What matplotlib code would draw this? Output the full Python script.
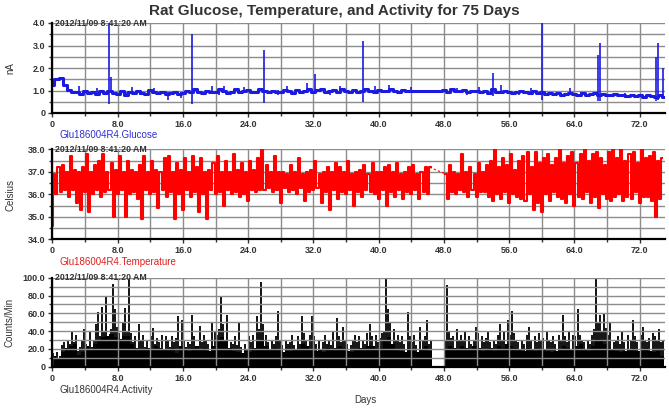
import numpy as np
import matplotlib
matplotlib.use('Agg')
import matplotlib.pyplot as plt
from matplotlib.ticker import MultipleLocator

plt.rcParams['font.family'] = ['Liberation Sans', 'DejaVu Sans']

# 글루코스 (nA), 0.5일 간격
glucose_nA = [
    1.25, 1.50, 1.55, 1.25, 1.02, 0.92, 0.95, 0.86, 1.00, 0.88,
    0.92, 0.85, 0.97, 0.88, 1.00, 0.90, 0.85, 0.98, 0.82, 0.95,
    0.88, 1.00, 0.90, 0.84, 1.02, 0.92, 0.88, 0.95, 0.84, 0.90,
    0.95, 0.85, 0.90, 0.98, 0.92, 1.05, 0.95, 0.88, 1.00, 0.92,
    0.95, 1.05, 1.00, 0.90, 0.95, 1.05, 0.92, 0.98, 1.02, 0.95,
    0.92, 1.05, 0.98, 0.92, 1.00, 0.95, 0.92, 1.02, 0.96, 0.90,
    1.02, 0.95, 0.98, 1.05, 0.95, 1.02, 1.05, 0.95, 0.98, 1.02,
    0.95, 1.05, 1.00, 0.92, 1.02, 0.95, 0.98, 1.05, 1.00, 0.95,
    1.02, 0.96, 0.98, 1.05, 1.00, 0.94, 1.03, 0.96, 1.00, 0.97,
    0.98, 1.00, 1.00, 1.00, 1.00, 1.00, 1.02, 0.95, 1.05, 0.96,
    0.98, 1.02, 0.95, 1.00, 0.97, 0.92, 1.00, 0.90, 1.05, 0.95,
    0.92, 0.96, 0.95, 0.88, 0.92, 0.98, 0.95, 0.88, 0.96, 0.90,
    0.95, 0.85, 0.90, 0.85, 0.88, 0.82, 0.86, 0.90, 0.85, 0.80,
    0.87, 0.82, 0.84, 0.88, 0.80, 0.86, 0.82, 0.78, 0.85, 0.80,
    0.80, 0.76, 0.82, 0.75, 0.78, 0.72, 0.80, 0.74, 0.72, 0.78,
    0.70,
]
glucose_days = np.arange(len(glucose_nA)) * 0.5

# 글루코스 스파이크 (일, 최저, 최고)
spike_days = [7.0, 7.15, 17.1, 26.0, 31.2, 32.2, 38.1, 54.0, 60.0, 66.9, 67.1, 74.0, 74.2, 74.8,
              3.2, 5.5, 9.8, 12.4, 19.6, 21.0, 23.5, 28.7, 35.2, 39.5, 41.3, 44.0, 49.6, 52.3,
              55.0, 58.7, 63.5, 9.1, 10.8, 14.2, 15.8, 20.4, 27.6, 34.0, 50.8, 57.2, 64.8, 70.2]
spike_low = [0.40, 0.90, 0.40, 0.45, 0.90, 0.85, 0.50, 0.75, 0.60, 0.55, 0.55, 0.55, 0.60, 0.65,
             0.88, 0.85, 0.90, 0.88, 0.92, 0.90, 0.92, 0.94, 0.95, 0.95, 0.96, 0.95, 0.92, 0.94,
             0.85, 0.90, 0.85, 0.72, 0.78, 0.60, 0.65, 0.78, 0.80, 0.82, 0.80, 0.78, 0.70, 0.65]
spike_high = [4.00, 1.60, 3.50, 2.80, 1.35, 1.75, 3.20, 1.80, 4.00, 2.60, 3.10, 2.50, 3.10, 2.00,
              1.18, 1.12, 1.15, 1.10, 1.18, 1.20, 1.15, 1.18, 1.20, 1.22, 1.25, 1.15, 1.12, 1.15,
              1.25, 1.12, 1.10, 0.95, 0.95, 0.95, 0.95, 1.00, 1.02, 1.02, 1.00, 0.98, 0.92, 0.88]

# 체온 (Celsius), 0.25일 간격, 46.5~48.0일 결측
temperature_c = [
    34.6, 36.9, 36.0, 37.2,  36.1, 37.3, 36.2, 37.0,  35.9, 37.7, 36.2, 37.1,
    35.6, 37.0, 35.3, 37.2,  36.1, 37.8, 35.2, 37.0,  36.0, 37.3, 36.2, 37.5,
    35.9, 37.8, 36.1, 37.0,  36.2, 37.4, 35.0, 37.1,  36.0, 37.7, 36.2, 37.0,
    35.0, 37.5, 36.0, 37.1,  36.1, 37.0, 35.8, 37.3,  34.9, 37.7, 36.2, 37.0,
    36.0, 37.5, 36.1, 37.1,  35.4, 37.0, 36.2, 37.6,  35.9, 37.7, 36.1, 37.0,
    34.9, 37.4, 36.0, 37.1,  35.3, 37.6, 36.2, 37.0,  35.9, 37.7, 36.1, 37.2,
    35.2, 37.6, 36.0, 37.0,  34.9, 37.1, 36.2, 37.4,  36.0, 37.7, 36.1, 37.0,
    35.5, 37.5, 36.2, 37.0,  36.0, 37.8, 36.1, 37.1,  35.9, 37.4, 36.0, 37.0,
    35.7, 37.5, 36.2, 37.1,  36.1, 37.6, 36.2, 38.0,  36.2, 37.3, 36.3, 37.0,
    36.1, 37.7, 36.2, 37.0,  35.6, 37.0, 36.3, 36.9,  36.1, 37.3, 36.2, 37.0,
    36.0, 37.6, 36.3, 36.9,  35.7, 37.0, 36.1, 37.1,  36.2, 37.5, 36.3, 36.9,
    35.6, 37.0, 36.1, 37.2,  35.3, 37.0, 36.2, 37.4,  35.8, 37.2, 36.1, 37.0,
    36.0, 37.5, 36.2, 36.9,  35.5, 37.0, 36.1, 37.1,  35.9, 37.3, 36.2, 36.9,
    36.1, 37.4, 36.0, 37.0,  35.8, 37.0, 36.2, 37.2,  35.5, 37.3, 36.1, 37.0,
    35.9, 37.4, 36.2, 36.9,  35.8, 37.0, 36.1, 37.2,  36.0, 37.3, 36.2, 36.9,
    35.8, 37.0, 36.1, 37.2,  36.0, 37.2, np.nan, np.nan,
    np.nan, np.nan, np.nan, np.nan,  np.nan, 36.9, 35.8, 37.3,
    36.1, 37.0, 36.0, 36.9,  36.2, 37.8, 36.1, 37.0,  35.9, 37.2, 36.2, 36.9,
    35.9, 37.4, 36.1, 37.0,  36.1, 37.3, 35.9, 37.5,  35.7, 38.0, 36.0, 37.2,
    35.8, 37.6, 36.1, 37.3,  35.6, 37.8, 36.0, 37.1,  35.9, 37.5, 35.8, 37.7,
    35.7, 37.9, 36.0, 37.2,  35.3, 37.9, 35.6, 37.4,  35.2, 37.6, 36.0, 37.8,
    35.7, 37.3, 36.1, 37.6,  35.9, 38.0, 35.8, 37.4,  35.6, 37.7, 36.0, 37.9,
    35.5, 37.4, 35.9, 37.8,  35.8, 38.0, 36.1, 37.5,  35.6, 37.8, 35.9, 37.9,
    35.4, 37.6, 36.0, 37.3,  35.8, 37.9, 35.7, 38.0,  35.9, 37.6, 36.0, 38.0,
    35.7, 37.5, 35.9, 37.8,  35.8, 37.9, 36.1, 37.4,  35.6, 38.0, 35.9, 37.6,
    35.9, 37.7, 35.7, 37.9,  35.0, 37.5, 35.8, 37.6,
]
temperature_days = np.arange(len(temperature_c)) * 0.25
gap_days = [46.25, 48.25]
gap_temp = [37.2, 36.9]

# 활동량 바닥 수준 (Counts/Min), 0.5일 간격
activity_base = [
    12, 10, 17, 21, 23, 25, 13, 17, 23, 19, 25, 29, 33, 35, 37, 33, 31, 35, 35, 25,
    21, 19, 19, 21, 19, 23, 21, 19, 19, 21, 15, 23, 19, 18, 21, 23, 19, 21, 18, 23,
    31, 33, 29, 21, 18, 17, 15, 18, 17, 21, 29, 31, 23, 19, 21, 19, 16, 18, 18, 19,
    21, 25, 23, 19, 18, 19, 16, 21, 19, 21, 23, 21, 18, 16, 19, 21, 21, 23, 23, 19,
    21, 29, 33, 25, 19, 18, 16, 21, 18, 16, 19, 23, 18, 0, 0, 0, 19, 23, 21, 19,
    23, 21, 19, 23, 21, 18, 19, 21, 18, 23, 21, 25, 23, 21, 19, 18, 21, 19, 18, 19,
    19, 18, 16, 18, 19, 23, 21, 19, 23, 25, 19, 18, 23, 31, 29, 25, 21, 19, 18, 16,
    18, 19, 21, 18, 19, 21, 18, 16, 18, 12,
]
base_days = np.arange(len(activity_base)) * 0.5

# 활동량 피크 (Counts/Min), 0.25일 간격
activity = [
    15, 10, 16, 12,  24, 28, 12, 29,  26, 40, 28, 36,  18, 22, 30, 42,
    26, 12, 40, 22,  30, 48, 62, 34,  67, 40, 78, 14,  42, 93, 65, 45,
    38, 12, 50, 66,  40, 100, 38, 28,  35, 14, 48, 30,  36, 22, 30, 13,
    34, 44, 25, 32,  28, 36, 12, 34,  30, 22, 35, 28,  32, 57, 13, 52,
    30, 22, 28, 25,  58, 34, 12, 20,  46, 28, 36, 30,  26, 13, 50, 40,
    36, 42, 80, 48,  30, 58, 14, 28,  26, 34, 24, 50,  22, 12, 26, 20,
    34, 28, 36, 13,  57, 42, 95, 48,  36, 28, 12, 30,  26, 34, 63, 30,
    24, 13, 30, 26,  28, 36, 24, 12,  34, 26, 57, 38,  30, 14, 36, 57,
    34, 26, 30, 12,  28, 36, 26, 30,  24, 40, 13, 55,  34, 28, 45, 30,
    26, 12, 24, 30,  36, 28, 34, 13,  30, 26, 38, 48,  34, 12, 36, 28,
    32, 38, 40, 100, 65, 50, 13, 42,  30, 36, 28, 34,  26, 12, 62, 34,
    28, 36, 24, 13,  45, 30, 34, 52,  26, 30, 0, 0,  0, 0, 0, 0,
    30, 92, 40, 32,  34, 12, 42, 30,  36, 30, 40, 13,  34, 26, 30, 45,
    38, 12, 34, 28,  32, 40, 28, 14,  30, 26, 36, 48,  30, 40, 12, 52,
    36, 63, 38, 30,  28, 13, 30, 26,  36, 45, 30, 12,  34, 28, 38, 30,
    32, 13, 40, 30,  28, 34, 26, 12,  36, 30, 58, 34,  28, 40, 13, 36,
    34, 65, 36, 30,  28, 12, 30, 26,  36, 42, 100, 50,  58, 40, 60, 44,
    36, 50, 13, 28,  30, 34, 26, 40,  28, 12, 36, 30,  52, 34, 28, 13,
    36, 45, 30, 28,  32, 12, 38, 35,  30, 42, 28, 30,
]
activity_days = np.arange(len(activity)) * 0.25 + 0.125

x_ticks = [0, 8, 16, 24, 32, 40, 48, 56, 64, 72]
x_labels = ['0', '8.0', '16.0', '24.0', '32.0', '40.0', '48.0', '56.0', '64.0', '72.0']
stamp = '2012/11/09 8:41:20 AM'

W, H = 669, 409
fig = plt.figure(figsize=(W / 100, H / 100), dpi=100)

left = 52.4 / W
width = (665 - 52.4) / W
panels = [(23, 113), (149.3, 239.3), (277.7, 366.7)]
axes = []
for top, bottom in panels:
    ax = fig.add_axes([left, 1 - bottom / H, width, (bottom - top) / H])
    axes.append(ax)

ax1, ax2, ax3 = axes

# 글루코스
ax1.plot(glucose_days, glucose_nA, color='#1a1ae0', lw=2.2, drawstyle='steps-mid', zorder=3)
ax1.vlines(spike_days, spike_low, spike_high, color='#1a1ae0', lw=1.2, zorder=3)
ax1.set_ylim(0, 4.0)
ax1.set_yticks([0, 1, 2, 3, 4])
ax1.set_yticklabels(['0', '1.0', '2.0', '3.0', '4.0'])
ax1.yaxis.set_minor_locator(MultipleLocator(0.5))

# 체온
ax2.plot(temperature_days, temperature_c, color='#ff0000', lw=1.5, drawstyle='steps-mid', zorder=3)
ax2.plot(gap_days, gap_temp, color='#ff0000', lw=0.8, ls=(0, (2, 2)), zorder=3)
ax2.set_ylim(34, 38)
ax2.set_yticks([34, 35, 36, 37, 38])
ax2.set_yticklabels(['34.0', '35.0', '36.0', '37.0', '38.0'])
ax2.yaxis.set_minor_locator(MultipleLocator(0.5))

# 활동량
ax3.bar(base_days, activity_base, width=0.5, align='edge', color='black', lw=0, zorder=1)
ax3.vlines(activity_days, 0, activity, color='black', lw=1.3, zorder=1)
ax3.set_ylim(0, 100)
ax3.set_yticks([0, 20, 40, 60, 80, 100])
ax3.set_yticklabels(['0', '20.0', '40.0', '60.0', '80.0', '100.0'])
ax3.yaxis.set_minor_locator(MultipleLocator(10))

for ax in axes:
    ax.set_xlim(0, 75.1)
    ax.set_xticks(x_ticks)
    ax.set_xticklabels(x_labels)
    ax.xaxis.set_minor_locator(MultipleLocator(4))
    ax.set_axisbelow(False)
    ax.grid(True, which='both', color='#8c8c8c', lw=1.0, zorder=2)
    for s in ['top', 'right']:
        ax.spines[s].set_visible(False)
    for s in ['left', 'bottom']:
        ax.spines[s].set_linewidth(1.6)
        ax.spines[s].set_zorder(5)
    ax.tick_params(which='both', direction='out', length=3, width=1, color='#333333')
    ax.tick_params(which='minor', length=2)
    ax.tick_params(labelsize=6.5, labelcolor='#333333', pad=2)
    for lab in ax.get_xticklabels() + ax.get_yticklabels():
        lab.set_fontweight('bold')

fig.text(0.5, 1 - 11 / H, 'Rat Glucose, Temperature, and Activity for 75 Days',
         ha='center', va='center', fontsize=11, fontweight='bold', color='#333333')

for top, _ in panels:
    fig.text(55 / W, 1 - top / H, stamp, ha='left', va='center', fontsize=6.3,
             fontweight='bold', color='#333333', zorder=10)

fig.text(60 / W, 1 - 135 / H, 'Glu186004R4.Glucose', fontsize=7, color='#3030d0', va='center')
fig.text(60 / W, 1 - 262 / H, 'Glu186004R4.Temperature', fontsize=7, color='#e02020', va='center')
fig.text(60 / W, 1 - 390 / H, 'Glu186004R4.Activity', fontsize=7, color='#333333', va='center')
fig.text(365 / W, 1 - 400 / H, 'Days', fontsize=7, color='#333333', ha='center', va='center')

fig.text(10 / W, 1 - 68 / H, 'nA', rotation=90, fontsize=7, color='#333333', ha='center', va='center')
fig.text(10 / W, 1 - 195 / H, 'Celsius', rotation=90, fontsize=7, color='#333333', ha='center', va='center')
fig.text(10 / W, 1 - 322 / H, 'Counts/Min', rotation=90, fontsize=7, color='#333333', ha='center', va='center')

fig.savefig('out.png', dpi=100)
